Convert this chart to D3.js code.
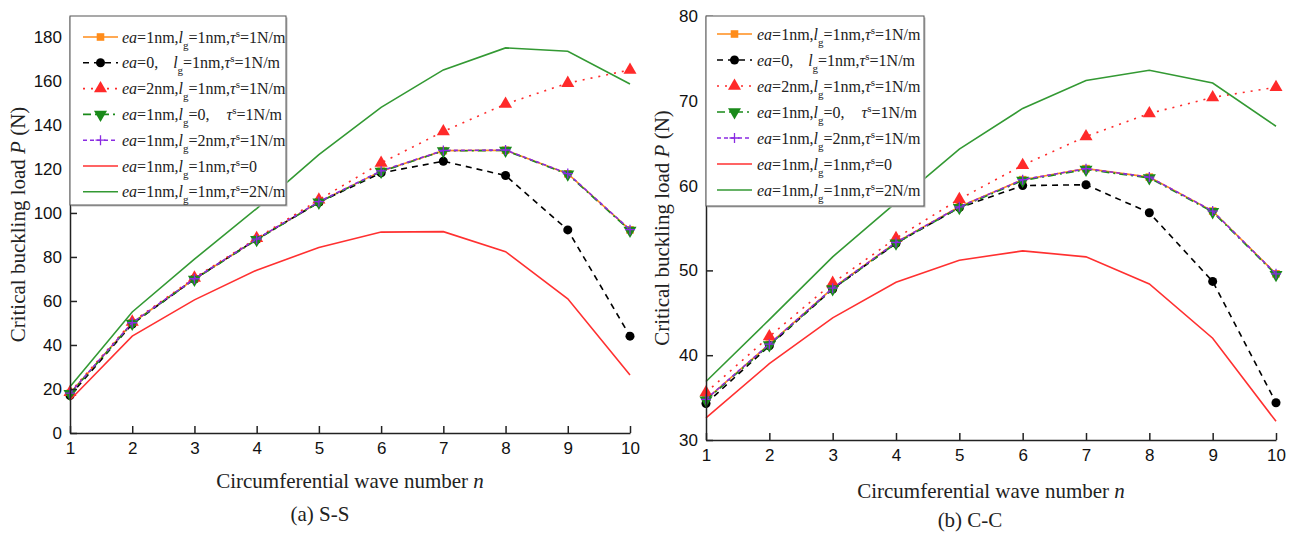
<!DOCTYPE html>
<html>
<head>
<meta charset="utf-8">
<script src="https://cdn.jsdelivr.net/npm/d3@7"></script>
<style>
    body { margin: 0; background: white; }
    svg { display: block; }
</style>
</head>
<body>
<div id="chart"></div>
<script>
// wave numbers n
const waveNumbers = [1, 2, 3, 4, 5, 6, 7, 8, 9, 10];

// (a) S-S, critical buckling load P (N)
const ssBase = [18, 50, 70, 88, 105, 119, 128.3, 128.5, 117.8, 92.3];
const ssEa0 = [17, 49.5, 70, 88, 104.8, 118.2, 123.5, 117, 92.3, 44];
const ssEa2 = [18.5, 50.5, 70.5, 88.5, 106, 122.7, 137, 149.5, 159, 165];
const ssLg0 = [17.8, 49.8, 69.8, 87.8, 104.8, 118.8, 128.2, 128.4, 117.6, 92];
const ssLg2 = [18.1, 50.1, 70.1, 88.1, 105.1, 119.1, 128.4, 128.6, 117.9, 92.4];
const ssTau0 = [15, 44, 60.5, 74, 84.3, 91.3, 91.5, 82.4, 61, 26.4];
const ssTau2 = [21, 55, 79, 102, 126.5, 148, 165, 175, 173.5, 158.6];

// (b) C-C
const ccBase = [34.8, 41.3, 47.9, 53.3, 57.5, 60.7, 62.0, 61.0, 57.0, 49.6];
const ccEa0 = [34.3, 41.1, 47.8, 53.2, 57.4, 60.0, 60.1, 56.8, 48.7, 34.4];
const ccEa2 = [35.6, 42.2, 48.5, 53.8, 58.4, 62.4, 65.8, 68.5, 70.4, 71.6];
const ccLg0 = [34.7, 41.2, 47.8, 53.2, 57.4, 60.6, 61.9, 60.9, 56.9, 49.5];
const ccLg2 = [34.8, 41.3, 47.9, 53.3, 57.5, 60.7, 62.0, 61.0, 57.0, 49.6];
const ccTau0 = [32.6, 39.0, 44.4, 48.6, 51.2, 52.3, 51.6, 48.4, 42.0, 32.2];
const ccTau2 = [36.9, 44.2, 51.6, 58.0, 64.3, 69.1, 72.4, 73.6, 72.1, 67.0];

const ssTicks = [0, 20, 40, 60, 80, 100, 120, 140, 160, 180];
const ccTicks = [30, 40, 50, 60, 70, 80];

// legend text pieces: i = italic, sub / sup, dx = extra gap
const legendLabels = [
    [{t: "ea", i: 1}, {t: "=1nm,"}, {t: "l", i: 1}, {t: "g", sub: 1}, {t: "=1nm,"}, {t: "τ", i: 1}, {t: "s", sup: 1}, {t: "=1N/m"}],
    [{t: "ea", i: 1}, {t: "=0,"}, {t: "l", i: 1, dx: 15}, {t: "g", sub: 1}, {t: "=1nm,"}, {t: "τ", i: 1}, {t: "s", sup: 1}, {t: "=1N/m"}],
    [{t: "ea", i: 1}, {t: "=2nm,"}, {t: "l", i: 1}, {t: "g", sub: 1}, {t: "=1nm,"}, {t: "τ", i: 1}, {t: "s", sup: 1}, {t: "=1N/m"}],
    [{t: "ea", i: 1}, {t: "=1nm,"}, {t: "l", i: 1}, {t: "g", sub: 1}, {t: "=0,"}, {t: "τ", i: 1, dx: 17}, {t: "s", sup: 1}, {t: "=1N/m"}],
    [{t: "ea", i: 1}, {t: "=1nm,"}, {t: "l", i: 1}, {t: "g", sub: 1}, {t: "=2nm,"}, {t: "τ", i: 1}, {t: "s", sup: 1}, {t: "=1N/m"}],
    [{t: "ea", i: 1}, {t: "=1nm,"}, {t: "l", i: 1}, {t: "g", sub: 1}, {t: "=1nm,"}, {t: "τ", i: 1}, {t: "s", sup: 1}, {t: "=0"}],
    [{t: "ea", i: 1}, {t: "=1nm,"}, {t: "l", i: 1}, {t: "g", sub: 1}, {t: "=1nm,"}, {t: "τ", i: 1}, {t: "s", sup: 1}, {t: "=2N/m"}]
];

// line styles for the 7 series, same order as the legend
const styles = [
    {color: "#ff8c1a", dash: null, marker: "square"},
    {color: "#000000", dash: "6,5", marker: "circle"},
    {color: "#ff2a2a", dash: "2,6", marker: "up"},
    {color: "#1a8a1a", dash: "8,4,2,4", marker: "down"},
    {color: "#8a2be2", dash: "4,3", marker: "plus"},
    {color: "#ff3030", dash: null, marker: null},
    {color: "#339933", dash: null, marker: null}
];

const width = 1299, height = 535;
const serif = "'Liberation Serif', 'Times New Roman', serif";
const sans = "'Liberation Sans', Arial, sans-serif";

const svg = d3.select("#chart").append("svg")
    .attr("width", width)
    .attr("height", height);

svg.append("rect").attr("width", width).attr("height", height).attr("fill", "white");

drawPanel({
    series: [ssBase, ssEa0, ssEa2, ssLg0, ssLg2, ssTau0, ssTau2],
    x: d3.scaleLinear().domain([1, 10]).range([70, 630]),
    y: d3.scaleLinear().domain([0, 189.5]).range([433, 16]),
    ticks: ssTicks,
    legend: {x: 70, y: 16, w: 216, h: 189, row0: 37, rowStep: 25.8, lineX: 83, textX: 122},
    yTitleX: 18,
    xTitleY: 488,
    xTitleCx: 350,
    caption: "(a) S-S",
    captionCx: 320,
    captionY: 521
});

drawPanel({
    series: [ccBase, ccEa0, ccEa2, ccLg0, ccLg2, ccTau0, ccTau2],
    x: d3.scaleLinear().domain([1, 10]).range([706, 1276]),
    y: d3.scaleLinear().domain([30, 80]).range([440, 16]),
    ticks: ccTicks,
    legend: {x: 706, y: 16, w: 218, h: 190, row0: 34, rowStep: 26, lineX: 717, textX: 757},
    yTitleX: 662,
    xTitleY: 498,
    xTitleCx: 991,
    caption: "(b) C-C",
    captionCx: 970,
    captionY: 527
});

function markerPath(type, size) {
    if (type === "square") return d3.symbol().type(d3.symbolSquare).size(size * 0.9)();
    if (type === "circle") return d3.symbol().type(d3.symbolCircle).size(size)();
    if (type === "up" || type === "down") return d3.symbol().type(d3.symbolTriangle).size(size * 1.15)();
    if (type === "plus") return "M-5,0H5M0,-5V5";
    return null;
}

function drawMarker(g, type, color, cx, cy) {
    if (!type) return;
    var p = g.append("path")
        .attr("d", markerPath(type, 64))
        .attr("transform", "translate(" + cx + "," + cy + ")" + (type === "down" ? " rotate(180)" : ""));
    if (type === "plus") {
        p.attr("fill", "none").attr("stroke", color).attr("stroke-width", 1.3);
    } else {
        p.attr("fill", color).attr("stroke", "none");
    }
}

function drawPanel(cfg) {
    var x = cfg.x, y = cfg.y;
    var g = svg.append("g");

    // curves
    cfg.series.forEach(function(values, s) {
        var st = styles[s];
        var pts = waveNumbers.map(function(n, i) { return [n, values[i]]; });
        var line = d3.line().x(function(d) { return x(d[0]); }).y(function(d) { return y(d[1]); });

        g.append("path")
            .datum(pts)
            .attr("d", line)
            .attr("fill", "none")
            .attr("stroke", st.color)
            .attr("stroke-width", 1.6)
            .attr("stroke-dasharray", st.dash);

        pts.forEach(function(d) {
            drawMarker(g, st.marker, st.color, x(d[0]), y(d[1]));
        });
    });

    // axes, ticks point inwards
    var xAxis = g.append("g")
        .attr("transform", "translate(0," + y.range()[0] + ")")
        .call(d3.axisBottom(x).tickValues(waveNumbers).tickSizeInner(-7).tickSizeOuter(0).tickPadding(9));

    var yAxis = g.append("g")
        .attr("transform", "translate(" + x.range()[0] + ",0)")
        .call(d3.axisLeft(y).tickValues(cfg.ticks).tickSizeInner(-7).tickSizeOuter(0).tickPadding(8));

    [xAxis, yAxis].forEach(function(a) {
        a.attr("font-family", null).attr("font-size", null);
        a.selectAll("path, line").attr("stroke", "#222").attr("stroke-width", 1.5);
        a.selectAll("text")
            .attr("fill", "#111")
            .style("font-family", sans)
            .style("font-size", "17px");
    });

    // legend
    var L = cfg.legend;
    var lg = g.append("g");
    lg.append("rect")
        .attr("x", L.x + 1.5).attr("y", L.y + 1.5)
        .attr("width", L.w).attr("height", L.h)
        .attr("fill", "#bbb");
    lg.append("rect")
        .attr("x", L.x).attr("y", L.y)
        .attr("width", L.w).attr("height", L.h)
        .attr("fill", "white")
        .attr("stroke", "#555")
        .attr("stroke-width", 1);

    legendLabels.forEach(function(parts, r) {
        var st = styles[r];
        var cy = L.row0 + r * L.rowStep;
        lg.append("line")
            .attr("x1", L.lineX).attr("x2", L.lineX + 35)
            .attr("y1", cy).attr("y2", cy)
            .attr("stroke", st.color)
            .attr("stroke-width", 1.6)
            .attr("stroke-dasharray", st.dash);
        drawMarker(lg, st.marker, st.color, L.lineX + 17.5, cy);

        var txt = lg.append("text")
            .attr("x", L.textX)
            .attr("y", cy + 5.5)
            .style("font-family", serif)
            .style("font-size", "16px")
            .attr("fill", "#222");
        var shift = 0;
        parts.forEach(function(p) {
            var target = p.sub ? 6 : (p.sup ? -6 : 0);
            var ts = txt.append("tspan")
                .attr("dy", target - shift)
                .text(p.t);
            shift = target;
            if (p.i) ts.style("font-style", "italic");
            if (p.sub || p.sup) ts.style("font-size", "11px");
            if (p.dx) ts.attr("dx", p.dx);
        });
    });

    // axis titles
    var yMid = (y.range()[0] + y.range()[1]) / 2;
    var yt = g.append("text")
        .attr("transform", "translate(" + cfg.yTitleX + "," + yMid + ") rotate(-90)")
        .attr("text-anchor", "middle")
        .attr("dy", "0.35em")
        .style("font-family", serif)
        .style("font-size", "21px")
        .attr("fill", "#222");
    yt.append("tspan").text("Critical buckling load ");
    yt.append("tspan").style("font-style", "italic").text("P");
    yt.append("tspan").text(" (N)");

    var xt = g.append("text")
        .attr("x", cfg.xTitleCx)
        .attr("y", cfg.xTitleY)
        .attr("text-anchor", "middle")
        .style("font-family", serif)
        .style("font-size", "21px")
        .attr("fill", "#222");
    xt.append("tspan").text("Circumferential wave number ");
    xt.append("tspan").style("font-style", "italic").text("n");

    g.append("text")
        .attr("x", cfg.captionCx)
        .attr("y", cfg.captionY)
        .attr("text-anchor", "middle")
        .style("font-family", serif)
        .style("font-size", "21px")
        .attr("fill", "#222")
        .text(cfg.caption);
}
</script>
</body>
</html>
